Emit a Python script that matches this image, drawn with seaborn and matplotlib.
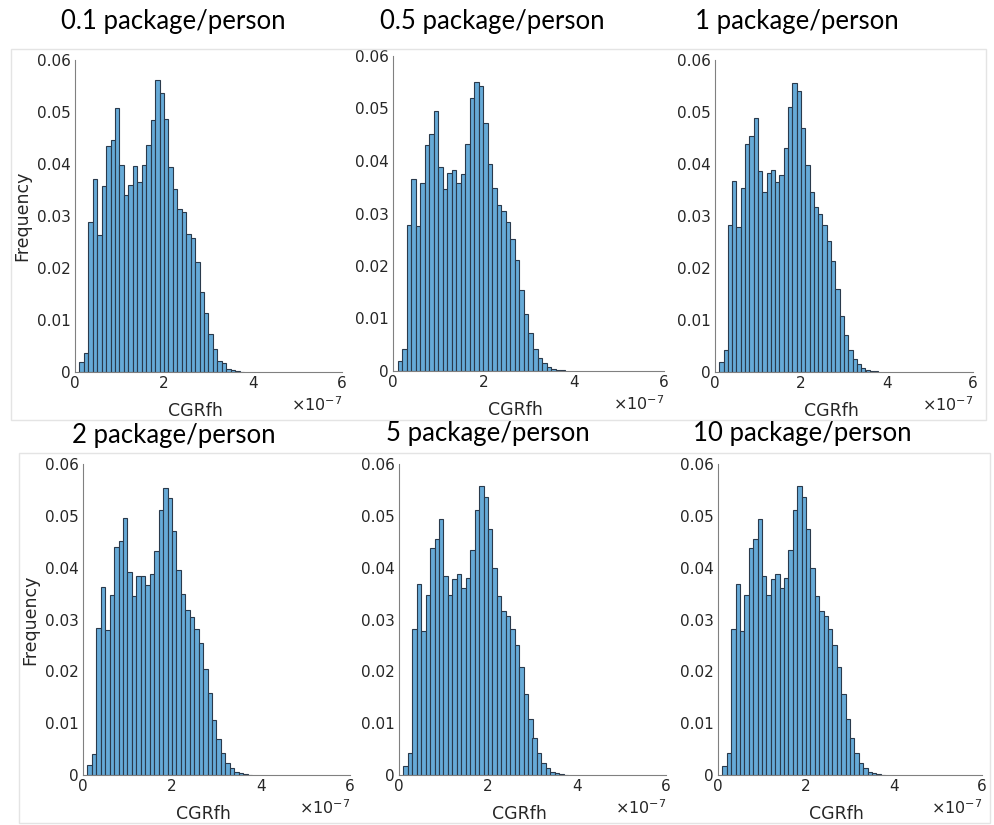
import numpy as np
import pandas as pd
import matplotlib
matplotlib.use("Agg")
import matplotlib.pyplot as plt
from matplotlib.patches import Rectangle
import seaborn as sns

# bin edges in units of 1e-7 (0.1 ... 3.8)
bin_edges = [round(0.1 * k, 1) for k in range(1, 39)]

titles = ["0.1 package/person", "0.5 package/person", "1 package/person",
          "2 package/person", "5 package/person", "10 package/person"]

freq_01 = [0.0019, 0.0037, 0.0288, 0.0372, 0.0264, 0.0358, 0.0435, 0.0446, 0.0507, 0.0399,
           0.0341, 0.0360, 0.0397, 0.0366, 0.0398, 0.0436, 0.0484, 0.0561, 0.0537, 0.0487,
           0.0394, 0.0351, 0.0313, 0.0307, 0.0266, 0.0257, 0.0211, 0.0153, 0.0114, 0.0073,
           0.0045, 0.0021, 0.0017, 0.0006, 0.0003, 0.0001, 0.00005]
freq_05 = [0.0019, 0.0042, 0.0279, 0.0366, 0.0277, 0.0359, 0.0430, 0.0451, 0.0495, 0.0389,
           0.0347, 0.0377, 0.0383, 0.0359, 0.0375, 0.0432, 0.0520, 0.0550, 0.0543, 0.0472,
           0.0394, 0.0349, 0.0316, 0.0305, 0.0284, 0.0251, 0.0211, 0.0154, 0.0109, 0.0073,
           0.0042, 0.0025, 0.0015, 0.0007, 0.0004, 0.0002, 0.0001]
freq_1 = [0.0019, 0.0043, 0.0283, 0.0367, 0.0278, 0.0353, 0.0438, 0.0454, 0.0488, 0.0386,
          0.0347, 0.0382, 0.0388, 0.0365, 0.0378, 0.0431, 0.0510, 0.0555, 0.0540, 0.0469,
          0.0399, 0.0347, 0.0317, 0.0304, 0.0283, 0.0251, 0.0214, 0.0160, 0.0108, 0.0072,
          0.0042, 0.0025, 0.0015, 0.0008, 0.0004, 0.0002, 0.0001]
freq_2 = [0.0019, 0.0041, 0.0283, 0.0362, 0.0279, 0.0348, 0.0439, 0.0451, 0.0495, 0.0391,
          0.0345, 0.0383, 0.0383, 0.0366, 0.0387, 0.0433, 0.0511, 0.0554, 0.0535, 0.0471,
          0.0395, 0.0350, 0.0319, 0.0305, 0.0281, 0.0255, 0.0204, 0.0159, 0.0106, 0.0070,
          0.0042, 0.0024, 0.0013, 0.0006, 0.0003, 0.0001, 0.00005]
freq_5 = [0.0018, 0.0043, 0.0281, 0.0368, 0.0278, 0.0348, 0.0437, 0.0455, 0.0494, 0.0384,
          0.0348, 0.0378, 0.0387, 0.0361, 0.0380, 0.0435, 0.0512, 0.0558, 0.0536, 0.0474,
          0.0400, 0.0346, 0.0316, 0.0306, 0.0282, 0.0251, 0.0208, 0.0156, 0.0109, 0.0071,
          0.0043, 0.0024, 0.0013, 0.0006, 0.0003, 0.0001, 0.00005]
freq_10 = [0.0018, 0.0043, 0.0281, 0.0368, 0.0278, 0.0348, 0.0437, 0.0455, 0.0494, 0.0384,
           0.0348, 0.0378, 0.0387, 0.0361, 0.0380, 0.0435, 0.0512, 0.0558, 0.0536, 0.0474,
           0.0400, 0.0346, 0.0316, 0.0306, 0.0282, 0.0251, 0.0208, 0.0156, 0.0109, 0.0071,
           0.0043, 0.0024, 0.0013, 0.0006, 0.0003, 0.0001, 0.00005]
all_freqs = [freq_01, freq_05, freq_1, freq_2, freq_5, freq_10]

xticks = [0, 2, 4, 6]
xtick_labels = ["0", "2", "4", "6"]
yticks = [0, 0.01, 0.02, 0.03, 0.04, 0.05, 0.06]
ytick_labels = ["0", "0.01", "0.02", "0.03", "0.04", "0.05", "0.06"]

sns.set_style("white")
plt.rcParams["font.family"] = ["DejaVu Sans"]

W, H = 995, 825
fig = plt.figure(figsize=(W / 100, H / 100), dpi=100)

# axes boxes in pixels: left, top, right, bottom
boxes = [(75, 60, 342, 372), (393, 56, 664, 371), (715, 60, 973, 372),
         (83, 464, 350, 775), (399, 464, 666, 775), (718, 464, 982, 775)]
title_pos = [(173, 22), (492, 22), (797, 22), (174, 436), (488, 434), (802, 434)]

# light screenshot frames, one per row
frames = [(11, 49, 986, 420), (19, 453, 990, 823)]
for l, t, r, b in frames:
    fig.add_artist(Rectangle((l / W, 1 - b / H), (r - l) / W, (b - t) / H,
                             transform=fig.transFigure, fill=False,
                             edgecolor="#e4e4e4", linewidth=1.0))

bar_color = (0.4, 0.668, 0.845)
axis_color = "#808080"
text_color = "#262626"

for i, (freqs, (l, t, r, b)) in enumerate(zip(all_freqs, boxes)):
    ax = fig.add_axes([l / W, 1 - b / H, (r - l) / W, (b - t) / H])
    centers = [(bin_edges[k] + bin_edges[k + 1]) / 2 for k in range(len(freqs))]
    df = pd.DataFrame({"CGRfh": centers, "Frequency": freqs})
    sns.histplot(data=df, x="CGRfh", weights="Frequency", bins=bin_edges, ax=ax,
                 color=bar_color, alpha=1.0, edgecolor="#2a3a4c", linewidth=0.8)
    ax.set_xlim(0, 6)
    ax.set_ylim(0, 0.06)
    ax.set_xticks(xticks)
    ax.set_xticklabels(xtick_labels)
    ax.set_yticks(yticks)
    ax.set_yticklabels(ytick_labels)
    ax.tick_params(direction="in", length=4, width=0.8, colors=axis_color,
                   labelcolor=text_color, labelsize=11, pad=3)
    for side in ["top", "right"]:
        ax.spines[side].set_visible(False)
    for side in ["left", "bottom"]:
        ax.spines[side].set_color(axis_color)
        ax.spines[side].set_linewidth(0.8)
    ax.set_xlabel("CGRfh", fontsize=12.5, color=text_color)
    ax.xaxis.set_label_coords(0.45, -0.095)
    if i % 3 == 0:
        ax.set_ylabel("Frequency", fontsize=12.5, color=text_color)
    else:
        ax.set_ylabel("")
    ax.text(1.0, -0.105, r"$\times10^{-7}$", transform=ax.transAxes, ha="right",
            va="center", fontsize=11.5, color=text_color)
    tx, ty = title_pos[i]
    fig.text(tx / W, 1 - ty / H, titles[i], ha="center", va="center",
             fontsize=18.5, color="black", family=["Lato", "DejaVu Sans"])

fig.savefig("out.png", dpi=100)
